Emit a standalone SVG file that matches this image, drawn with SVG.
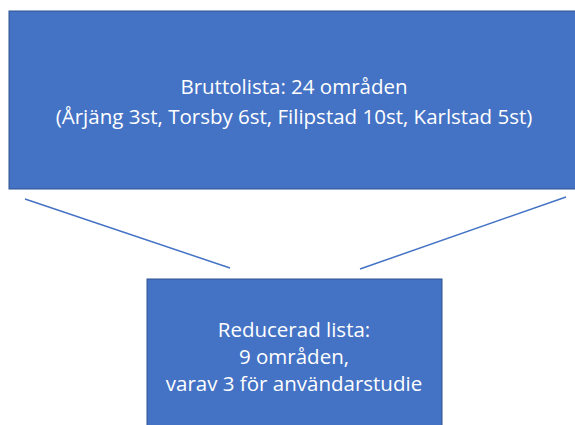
<svg xmlns="http://www.w3.org/2000/svg" width="575" height="425" viewBox="0 0 575 425">
<style>
.box{fill:#4472C4;stroke:#2F528F;stroke-width:1}
.t{font-family:"Open Sans","Liberation Sans",sans-serif;font-size:20.5px;fill:#ffffff;text-anchor:middle}
.c{stroke:#4472C4;stroke-width:1.5;fill:none}
</style>
<rect width="575" height="425" fill="#ffffff"/>
<g id="connectors">
<line class="c" x1="25" y1="199" x2="230" y2="268"/>
<line class="c" x1="566" y1="197" x2="360" y2="269"/>
</g>
<g id="brutto">
<rect class="box" x="9" y="11" width="570" height="178"/>
<text class="t" x="294" y="94">Bruttolista: 24 områden</text>
<text class="t" x="294" y="124">(Årjäng 3st, Torsby 6st, Filipstad 10st, Karlstad 5st)</text>
</g>
<g id="reducerad">
<rect class="box" x="147" y="279" width="295" height="150"/>
<text class="t" x="294" y="337">Reducerad lista:</text>
<text class="t" x="294" y="364">9 områden,</text>
<text class="t" x="294" y="391">varav 3 för användarstudie</text>
</g>
</svg>
